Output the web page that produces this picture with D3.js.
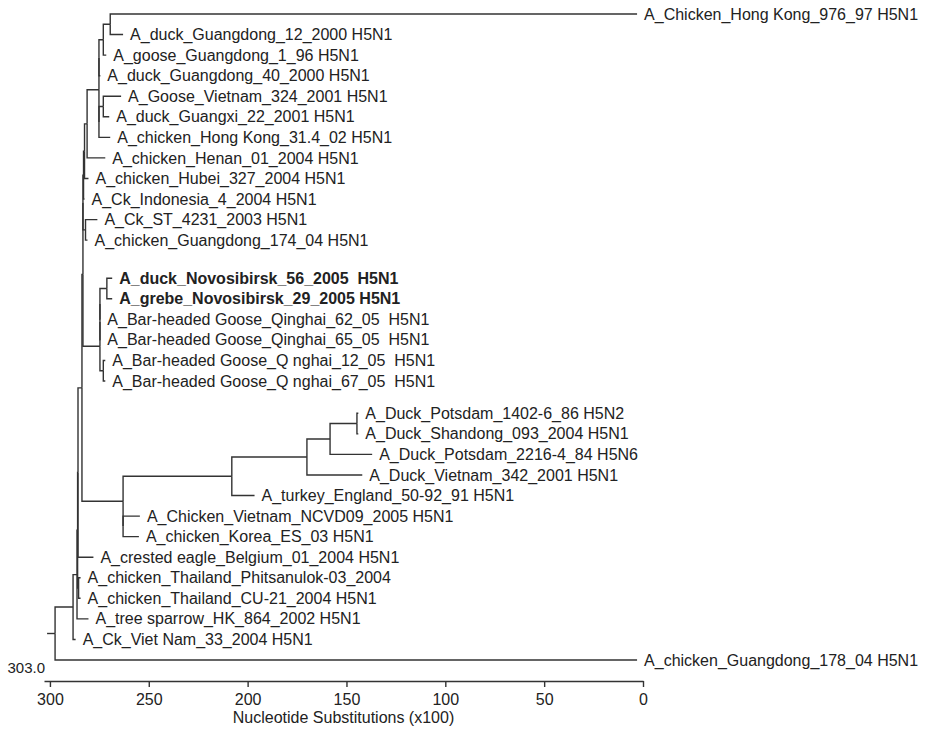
<!DOCTYPE html>
<html>
<head>
  <meta charset="utf8">
  <title>H5N1 tree</title>
  <style>
  * { margin: 0; padding: 0; }
  body { background: #fff; }
  text { font-family: "Liberation Sans", Arial, sans-serif; fill: #222; }
  </style>
</head>
<body>
  <script src="https://cdn.jsdelivr.net/npm/d3@7"></script>
  <script>
  var w = 927;
  var h = 756;

  //Leaves, top to bottom, with their parent node and tip position (axis units)
  var leafNames = [
    "A_Chicken_Hong Kong_976_97 H5N1",
    "A_duck_Guangdong_12_2000 H5N1",
    "A_goose_Guangdong_1_96 H5N1",
    "A_duck_Guangdong_40_2000 H5N1",
    "A_Goose_Vietnam_324_2001 H5N1",
    "A_duck_Guangxi_22_2001 H5N1",
    "A_chicken_Hong Kong_31.4_02 H5N1",
    "A_chicken_Henan_01_2004 H5N1",
    "A_chicken_Hubei_327_2004 H5N1",
    "A_Ck_Indonesia_4_2004 H5N1",
    "A_Ck_ST_4231_2003 H5N1",
    "A_chicken_Guangdong_174_04 H5N1",
    "A_duck_Novosibirsk_56_2005  H5N1",
    "A_grebe_Novosibirsk_29_2005 H5N1",
    "A_Bar-headed Goose_Qinghai_62_05  H5N1",
    "A_Bar-headed Goose_Qinghai_65_05  H5N1",
    "A_Bar-headed Goose_Q nghai_12_05  H5N1",
    "A_Bar-headed Goose_Q nghai_67_05  H5N1",
    "A_Duck_Potsdam_1402-6_86 H5N2",
    "A_Duck_Shandong_093_2004 H5N1",
    "A_Duck_Potsdam_2216-4_84 H5N6",
    "A_Duck_Vietnam_342_2001 H5N1",
    "A_turkey_England_50-92_91 H5N1",
    "A_Chicken_Vietnam_NCVD09_2005 H5N1",
    "A_chicken_Korea_ES_03 H5N1",
    "A_crested eagle_Belgium_01_2004 H5N1",
    "A_chicken_Thailand_Phitsanulok-03_2004",
    "A_chicken_Thailand_CU-21_2004 H5N1",
    "A_tree sparrow_HK_864_2002 H5N1",
    "A_Ck_Viet Nam_33_2004 H5N1",
    "A_chicken_Guangdong_178_04 H5N1"
  ];
  var leafParents = ["A", "A", "B", "C1", "D", "D", "C2", "E", "F", "G", "S", "S",
    "Nv", "Nv", "Qb", "Qa", "Q2", "Q2", "P1", "P1", "P2", "P3", "P4", "K2", "K2",
    "L", "T", "T", "N", "X", "R"];
  var leafTips = [3, 263, 271.5, 274.5, 264, 270, 269.5, 272, 280.5, 282.5, 276, 281,
    268.5, 268.5, 274.5, 274.5, 272, 272, 144, 144, 137, 142, 196.5, 254.5, 255,
    278, 284.5, 284.5, 280.5, 287, 3];

  //Internal nodes
  var innerIds = ["R", "X", "N", "M", "L", "J", "I", "H", "G", "F", "E", "C", "C1", "C2",
    "B", "A", "D", "S", "Q", "Qa", "Qb", "Nv", "Q2", "K", "K2", "P4", "P3", "P2", "P1", "T"];
  var innerParents = ["", "R", "X", "N", "M", "L", "J", "I", "H", "G", "F", "E", "C", "C",
    "C1", "B", "C2", "H", "I", "Q", "Qa", "Qb", "Q", "J", "K", "K", "P4", "P3", "P2", "M"];
  var innerPos = [297.4, 288.3, 286.3, 286, 285.8, 283.8, 283.3, 283.3, 283, 282.5, 281.2,
    275.2, 275.2, 275.2, 273, 269.5, 273, 282, 274.7, 274.7, 274.7, 271.2, 273,
    263, 263, 208, 170, 158.3, 144.7, 285.5];

  //Axis
  var totalLength = 303.0;
  var tickValues = [300, 250, 200, 150, 100, 50, 0];
  var axisTitle = "Nucleotide Substitutions (x100)";

  //Build the rows for stratify
  var rows = [];
  innerIds.forEach(function(id, i) {
    rows.push({ id: id, parent: innerParents[i] || null, pos: innerPos[i], leaf: -1 });
  });
  leafNames.forEach(function(name, i) {
    rows.push({ id: name, parent: leafParents[i], pos: leafTips[i], leaf: i });
  });

  var root = d3.stratify()
    .id(function(d) { return d.id; })
    .parentId(function(d) { return d.parent; })(rows);

  //keep children in leaf order
  root.eachAfter(function(n) {
    n.first = n.children ? d3.min(n.children, function(c) { return c.first; }) : n.data.leaf;
  });
  root.sort(function(a, b) { return a.first - b.first; });

  //Scales
  var xScale = d3.scaleLinear()
    .domain([totalLength, 0])
    .range([44, 643]);

  //leaf rows, with the small gaps between the groups
  var gapAfter = { 11: 0.85, 17: 0.57 };
  var slots = [];
  var s = 0;
  leafNames.forEach(function(name, i) {
    slots.push(s);
    s += 1 + (gapAfter[i] || 0);
  });
  var yScale = d3.scaleLinear()
    .domain([0, slots[slots.length - 1]])
    .range([14, 660]);

  root.eachAfter(function(n) {
    n.px = xScale(n.data.pos);
    if (n.children) {
      n.py = (n.children[0].py + n.children[n.children.length - 1].py) / 2;
    } else {
      n.py = yScale(slots[n.data.leaf]);
    }
  });

  var svg = d3.select("body")
    .append("svg")
    .attr("width", w)
    .attr("height", h);

  //Branches
  svg.append("g")
    .selectAll("path")
    .data(root.links())
    .enter()
    .append("path")
    .attr("d", function(d) {
      return "M" + d.source.px + "," + d.source.py +
        "V" + d.target.py + "H" + d.target.px;
    })
    .attr("fill", "none")
    .attr("stroke", "#333")
    .attr("stroke-width", 1.4);

  //root stub
  svg.append("line")
    .attr("x1", root.px - 8)
    .attr("x2", root.px)
    .attr("y1", root.py)
    .attr("y2", root.py)
    .attr("stroke", "#333")
    .attr("stroke-width", 1.4);

  //Labels
  svg.append("g")
    .selectAll("text")
    .data(root.leaves())
    .enter()
    .append("text")
    .attr("x", function(d) { return d.px + 7; })
    .attr("y", function(d) { return d.py; })
    .attr("dy", "0.35em")
    .attr("font-size", 16)
    .attr("font-weight", function(d) { return d.data.id.indexOf("Novosibirsk") >= 0 ? "bold" : null; })
    .style("white-space", "pre")
    .text(function(d) { return d.data.id; });

  //Scale bar
  var xAxis = d3.axisBottom()
    .scale(xScale)
    .tickValues(tickValues)
    .tickSize(6)
    .tickSizeOuter(0);

  var axisG = svg.append("g")
    .attr("transform", "translate(0,681)")
    .call(xAxis);
  axisG.select(".domain").attr("stroke", "#333").attr("stroke-width", 1.4);
  axisG.selectAll(".tick line").attr("stroke", "#333").attr("stroke-width", 1.4);
  axisG.selectAll(".tick text")
    .attr("font-size", 16)
    .attr("font-family", "Liberation Sans, Arial, sans-serif")
    .attr("fill", "#222")
    .attr("dy", "0.95em");

  svg.append("text")
    .attr("x", xScale(totalLength) + 1)
    .attr("y", 673)
    .attr("text-anchor", "end")
    .attr("font-size", 15)
    .text(totalLength.toFixed(1));

  svg.append("text")
    .attr("x", (xScale(totalLength) + xScale(0)) / 2)
    .attr("y", 723)
    .attr("text-anchor", "middle")
    .attr("font-size", 16)
    .text(axisTitle);
  </script>
</body>
</html>
